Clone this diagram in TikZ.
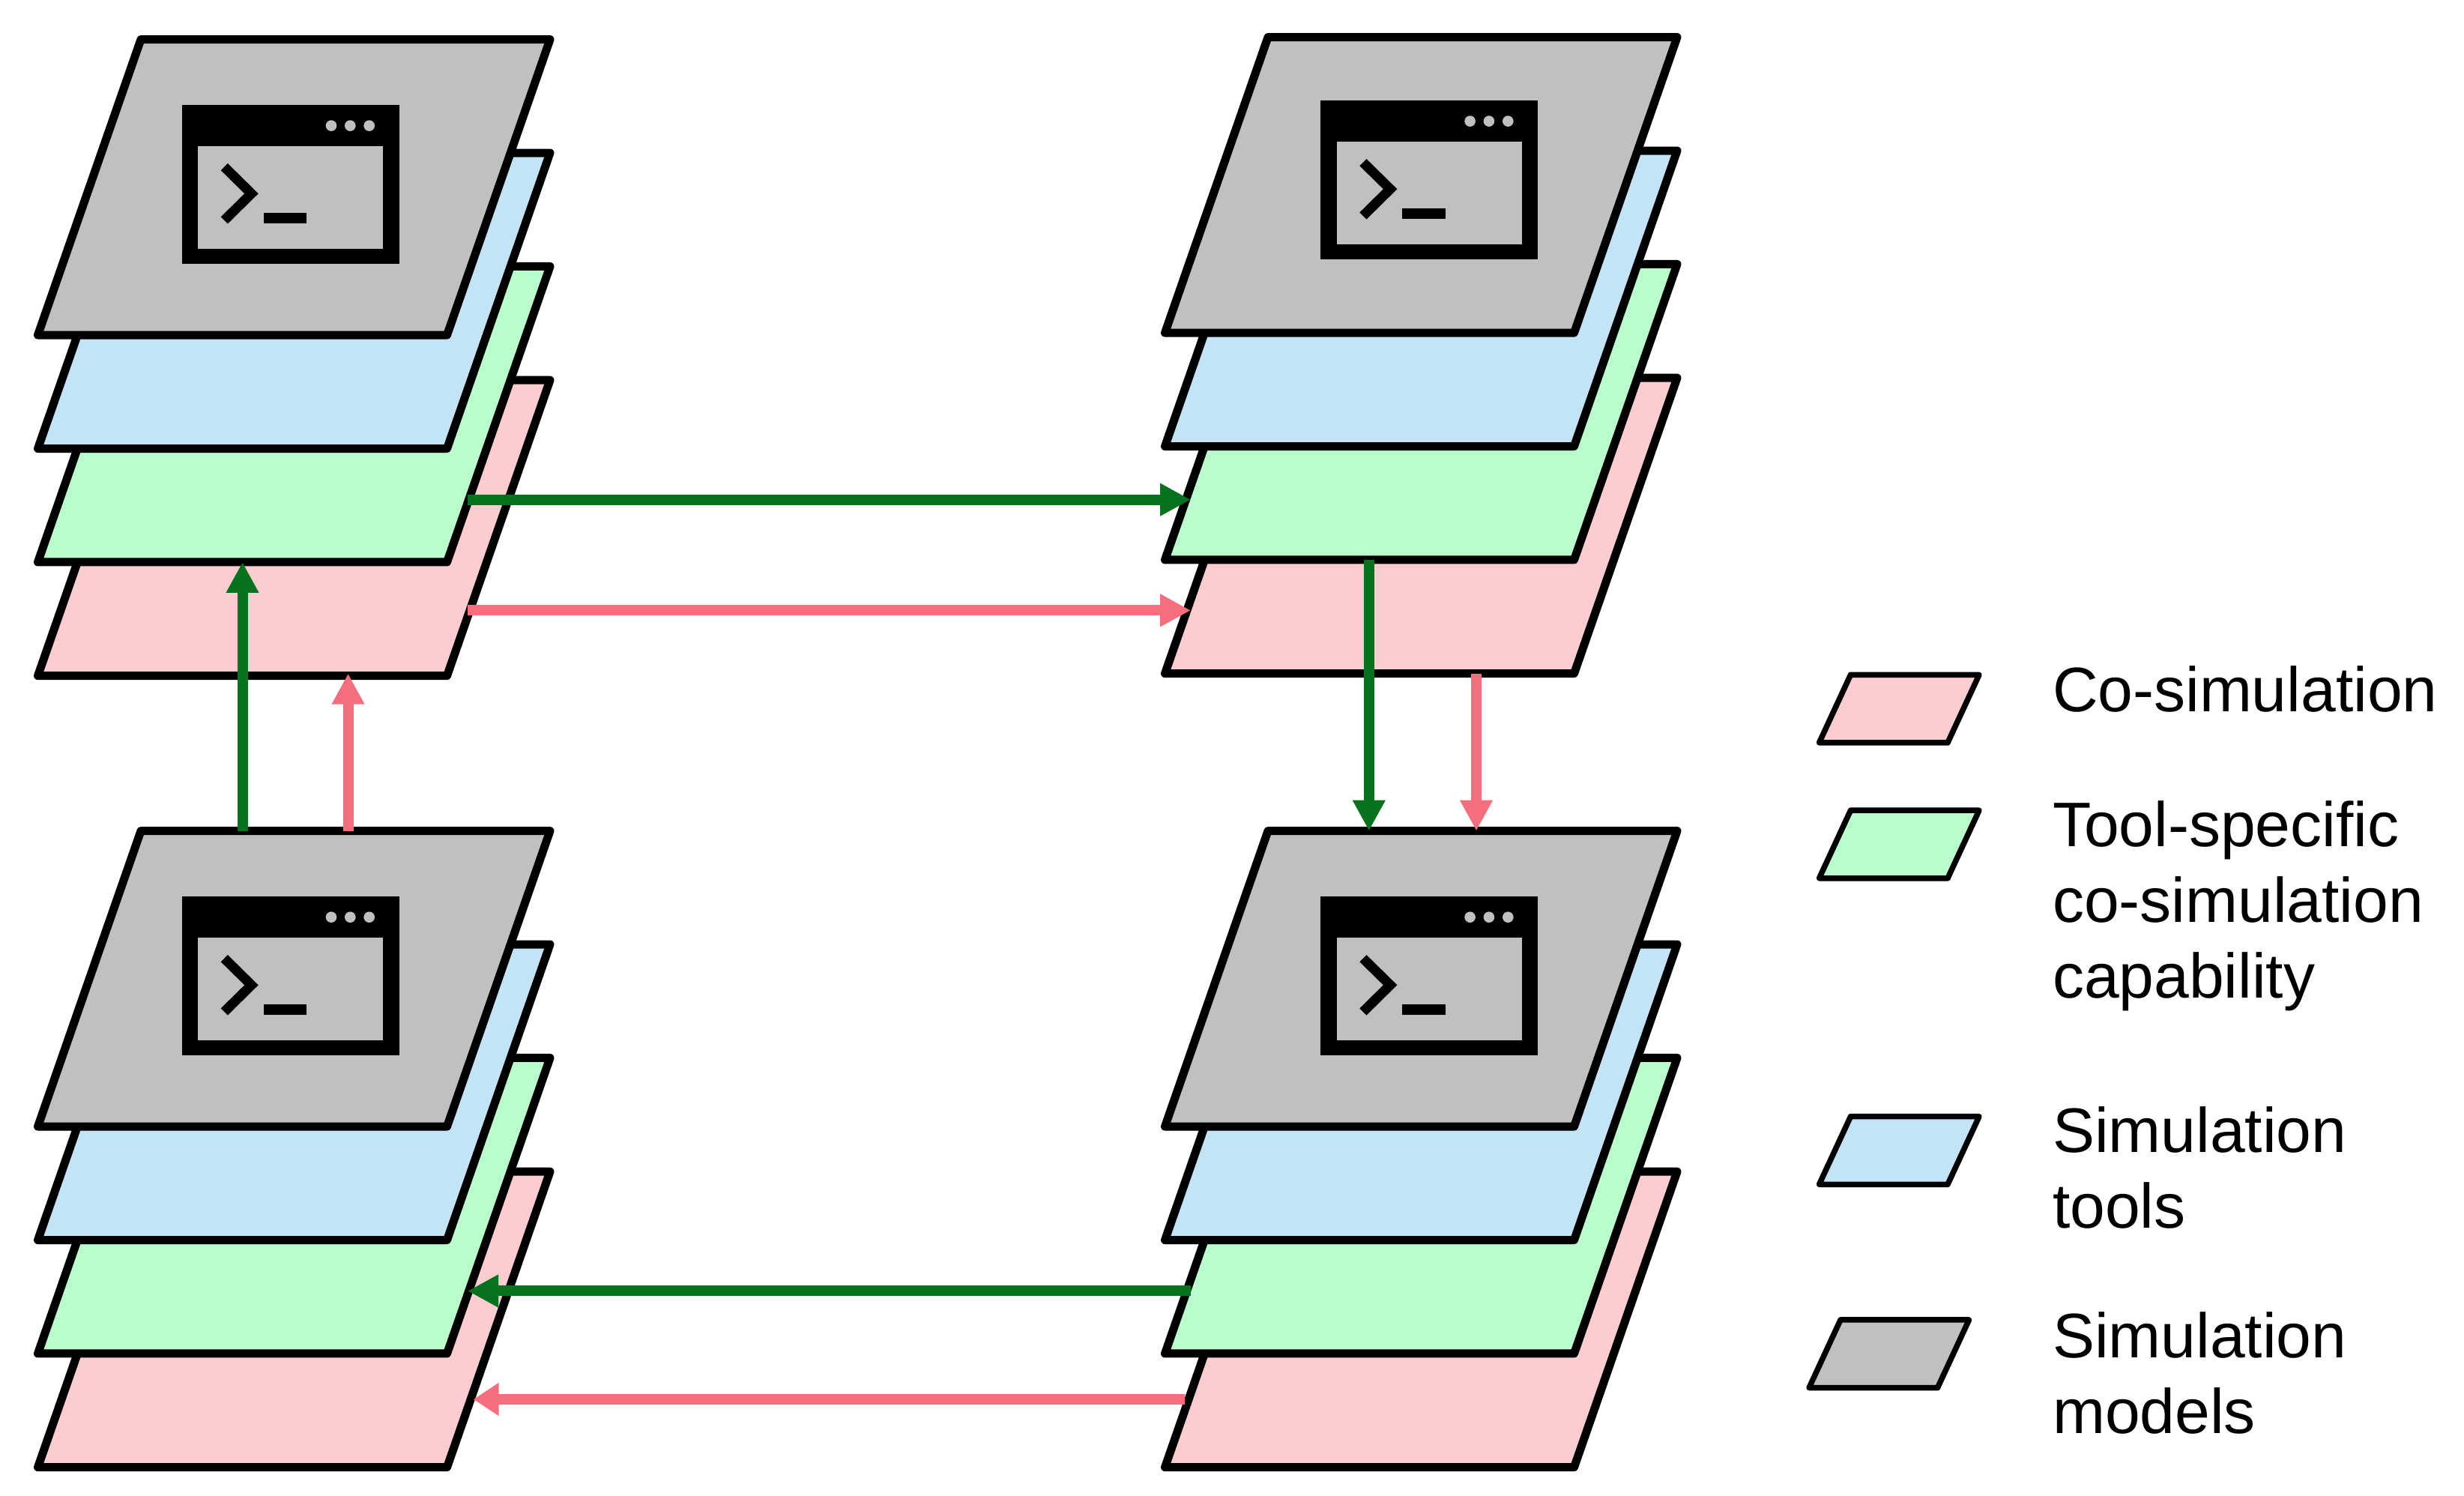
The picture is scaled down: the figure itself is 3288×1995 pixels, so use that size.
\documentclass[tikz,border=0pt]{standalone}
\usepackage{fontspec}
\setmainfont{Liberation Sans}
\usetikzlibrary{arrows.meta,positioning,calc}
\definecolor{modelfill}{HTML}{C0C0C0}
\definecolor{toolfill}{HTML}{C3E3F7}
\definecolor{specfill}{HTML}{BAFDCC}
\definecolor{cosimfill}{HTML}{FBCCD0}
\definecolor{specline}{HTML}{06721E}
\definecolor{cosimline}{HTML}{F56E7D}
\tikzset{
    sheet/.style={draw=black,line width=11,line join=round,inner sep=0,outer sep=0,xslant=0.3485,transform shape,minimum width=546,minimum height=394.5},
    keybox/.style={draw=black,line width=7.5,line join=round,inner sep=0,outer sep=0,xslant=0.463,transform shape,minimum width=171.5,minimum height=90.7},
    keytext/.style={anchor=base west,inner sep=0,outer sep=0,align=left,font=\fontsize{84}{101}\selectfont},
    specarrow/.style={-{Triangle[length=41,width=41]},line width=14,specline},
    cosimarrow/.style={-{Triangle[length=41,width=41]},line width=14,cosimline}
}
\newcommand{\termwin}[2]{
    \begin{scope}[shift={(#1,#2)}]
        \fill[black] (0,0) rectangle (290,-212);
        \fill[modelfill] (21.3,-54.7) rectangle (268.3,-192);
        \foreach \dotx in {199.3,224.6,250}
            \fill[modelfill] (\dotx,-27.7) circle (7.3);
        \draw[black,line width=13,miter limit=10] (56.6,-82.7) -- (92.8,-118.3) -- (56.6,-154);
        \fill[black] (109,-144) rectangle (166.6,-158);
    \end{scope}
}
\begin{document}
\begin{tikzpicture}[x=1pt,y=1pt]
    \useasboundingbox (0,0) rectangle (3288,1995);
    \foreach \nm/\dx/\dy in {a/0/0,b/1504/3,c/0/-1056,d/1504/-1056}
    {
        \node[sheet,fill=cosimfill] (p\nm) at (392.25+\dx,1290.55+\dy) {};
        \node[sheet,fill=specfill] (g\nm) at (392.25+\dx,1442.25+\dy) {};
        \node[sheet,fill=toolfill] (t\nm) at (392.25+\dx,1593.7+\dy) {};
        \node[sheet,fill=modelfill] (m\nm) at (392.25+\dx,1745.15+\dy) {};
    }
    \termwin{242.7}{1855}
    \termwin{1762.3}{1861}
    \termwin{242.7}{799}
    \termwin{1762.3}{799}

    \coordinate (gouta) at (624,1328.3);
    \coordinate (ginb) at (1589,1328.3);
    \coordinate (pouta) at (624,1180.6);
    \coordinate (pinb) at (1589,1180.6);
    \coordinate (goutd) at (1588.6,272.5);
    \coordinate (ginc) at (624,272.5);
    \coordinate (poutd) at (1581,128);
    \coordinate (pinc) at (631.7,128);

    \draw[specarrow] (gouta) -- (ginb);
    \draw[cosimarrow] (pouta) -- (pinb);
    \draw[specarrow] (goutd) -- (ginc);
    \draw[cosimarrow,-{Triangle[length=34,width=42]}] (poutd) -- (pinc);
    \draw[specarrow] ([xshift=-0.7]gb.south) -- ([xshift=-0.7]gb.south |- md.north);
    \draw[cosimarrow] ([xshift=142.5]pb.south) -- ([xshift=142.5]pb.south |- md.north);
    \draw[specarrow] (ga.south |- mc.north) -- (ga.south);
    \draw[cosimarrow] ([xshift=141]pa.south |- mc.north) -- ([xshift=141,yshift=3]pa.south);

    \node[keybox,fill=cosimfill] (kp) at (2534.25,1049.35) {};
    \node[keybox,fill=specfill] (kg) at (2534.25,868.5) {};
    \node[keybox,fill=toolfill] (kt) at (2534.25,460) {};
    \node[keybox,fill=modelfill] (km) at (2520.75,188.7) {};

    \node[keytext] (lp) at (2739,1045.3) {Co-simulation};
    \node[keytext] (lg) at (2739,663) {Tool-specific\\co-simulation\\capability};
    \node[keytext] (lt) at (2739,356.2) {Simulation\\tools};
    \node[keytext] (lm) at (2739,82.5) {Simulation\\models};
\end{tikzpicture}
\end{document}
